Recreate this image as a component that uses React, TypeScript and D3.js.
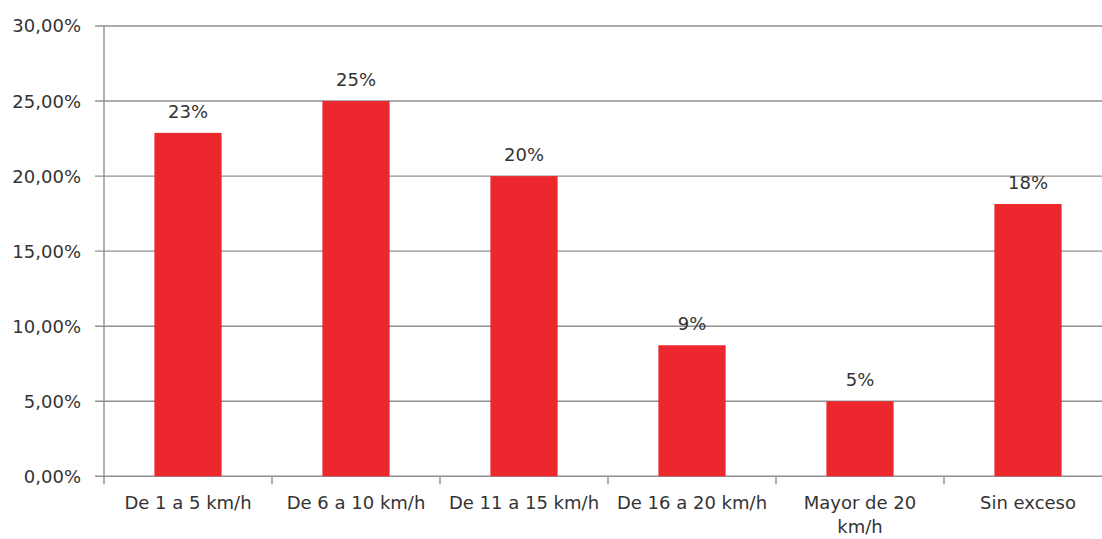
import React from "react";
import * as d3 from "d3";

const categories: string[][] = [
  ["De 1 a 5 km/h"],
  ["De 6 a 10 km/h"],
  ["De 11 a 15 km/h"],
  ["De 16 a 20 km/h"],
  ["Mayor de 20", "km/h"],
  ["Sin exceso"],
];
const values: number[] = [0.2288, 0.25, 0.2, 0.0873, 0.05, 0.1814];
const valueLabels: string[] = ["23%", "25%", "20%", "9%", "5%", "18%"];
const yTicks: number[] = [0, 0.05, 0.1, 0.15, 0.2, 0.25, 0.3];
const yTickLabels: string[] = ["0,00%", "5,00%", "10,00%", "15,00%", "20,00%", "25,00%", "30,00%"];

const W = 1102;
const H = 539;
const left = 104;
const bandW = 168;
const top = 26;
const bottom = 476.3;

export default function App() {
  const x = d3
    .scaleBand<number>()
    .domain(d3.range(categories.length))
    .range([left, left + bandW * categories.length])
    .padding(0);
  const y = d3.scaleLinear().domain([0, 0.3]).range([bottom, top]);
  const bw = x.bandwidth() * 0.4;
  const font = "'DejaVu Sans', Verdana, sans-serif";
  const textColor = "#333";
  const grid = "#909090";

  return (
    <svg
      width={W}
      height={H}
      style={{ position: "absolute", left: 0, top: 0, background: "#fff" }}
      fontFamily={font}
    >
      {yTicks.map((t, i) => (
        <g key={"g" + i}>
          <line x1={left - 9} x2={W} y1={y(t)} y2={y(t)} stroke={grid} strokeWidth={1.4} />
          <text
            x={81}
            y={y(t)}
            dy="0.36em"
            textAnchor="end"
            fontSize={18}
            fill={textColor}
          >
            {yTickLabels[i]}
          </text>
        </g>
      ))}
      <line x1={left} x2={left} y1={top} y2={bottom} stroke={grid} strokeWidth={1.4} />
      {d3.range(categories.length + 1).map((i) => (
        <line
          key={"t" + i}
          x1={left + i * x.step()}
          x2={left + i * x.step()}
          y1={bottom}
          y2={bottom + 8}
          stroke={grid}
          strokeWidth={1.4}
        />
      ))}
      {values.map((v, i) => {
        const cx = (x(i) as number) + x.bandwidth() / 2;
        return (
          <g key={"b" + i}>
            <rect
              x={cx - bw / 2}
              y={y(v)}
              width={bw}
              height={bottom - y(v)}
              fill="#EC282E"
            />
            <text
              x={cx}
              y={y(v) - 15}
              textAnchor="middle"
              fontSize={18}
              fill={textColor}
            >
              {valueLabels[i]}
            </text>
            {categories[i].map((line, j) => (
              <text
                key={j}
                x={cx}
                y={509 + j * 24}
                textAnchor="middle"
                fontSize={18}
                fill={textColor}
              >
                {line}
              </text>
            ))}
          </g>
        );
      })}
    </svg>
  );
}
